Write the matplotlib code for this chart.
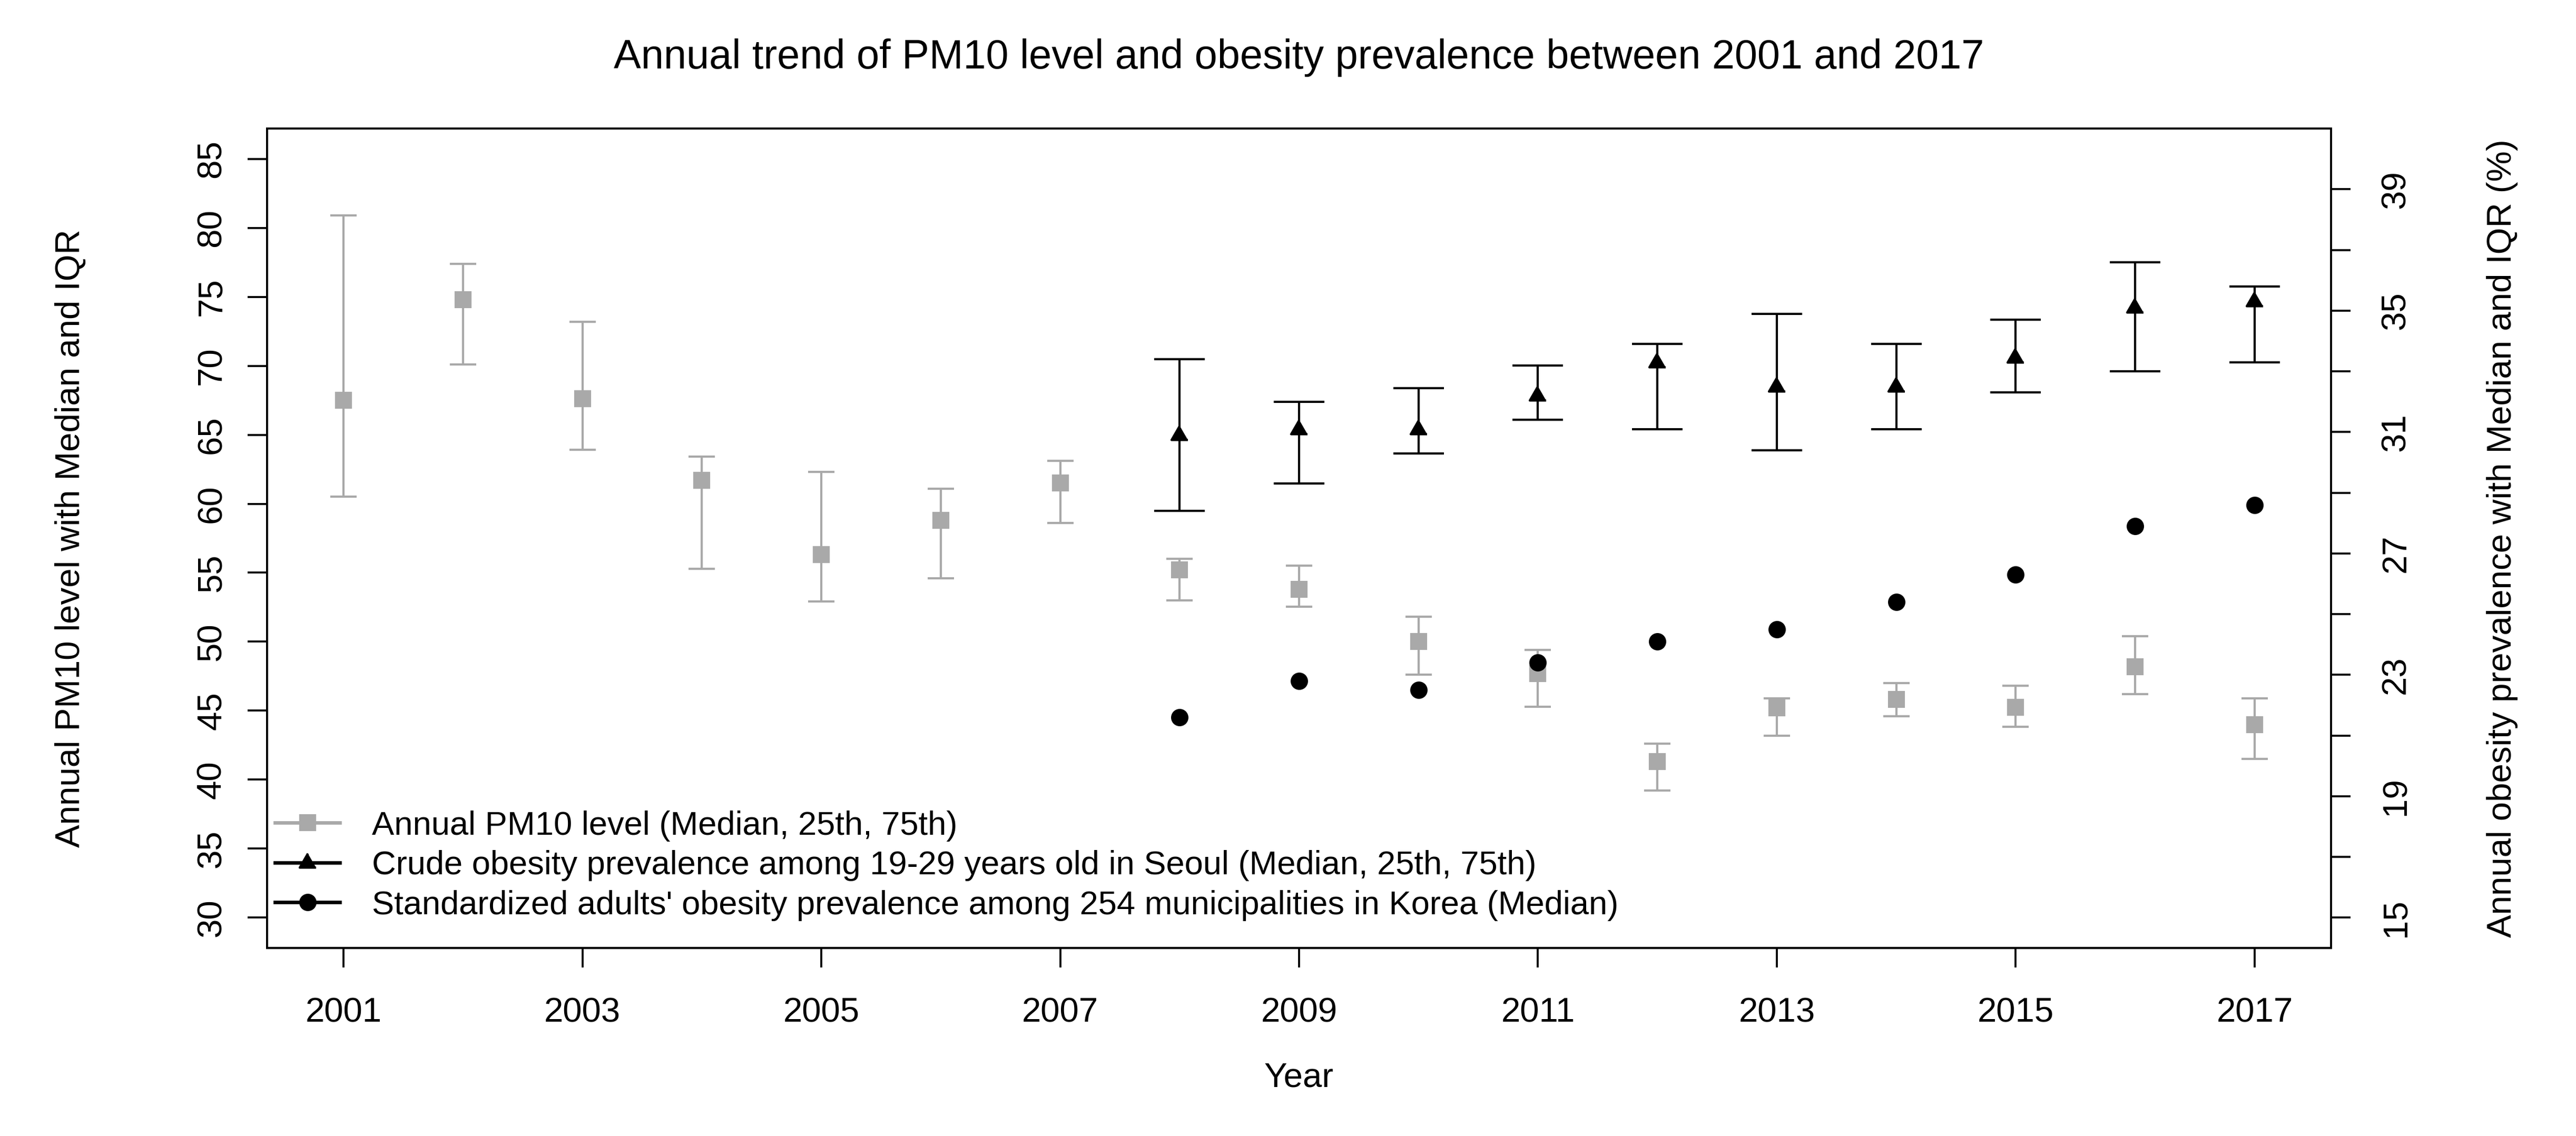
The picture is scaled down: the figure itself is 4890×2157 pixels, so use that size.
import matplotlib
matplotlib.use("Agg")
import matplotlib.pyplot as plt
from matplotlib.lines import Line2D
import numpy as np

plt.rcParams['font.family'] = ['Liberation Sans', 'DejaVu Sans']

# data
years = np.arange(2001, 2018)
pm_med = [67.5, 74.8, 67.6, 61.7, 56.3, 58.8, 61.5, 55.2, 53.8, 50.0, 47.7, 41.3, 45.2, 45.8, 45.25, 48.2, 44.0]
pm_q75 = [80.9, 77.4, 73.2, 63.4, 62.3, 61.1, 63.1, 56.0, 55.5, 51.8, 49.4, 42.6, 45.9, 47.0, 46.8, 50.4, 45.9]
pm_q25 = [60.5, 70.1, 63.9, 55.3, 52.9, 54.6, 58.6, 53.0, 52.55, 47.6, 45.3, 39.2, 43.2, 44.6, 43.85, 46.2, 41.5]

ob_years = np.arange(2008, 2018)
crude_med = [30.9, 31.1, 31.1, 32.2, 33.3, 32.5, 32.5, 33.45, 35.1, 35.3]
crude_q75 = [33.4, 32.0, 32.45, 33.2, 33.9, 34.9, 33.9, 34.7, 36.6, 35.8]
crude_q25 = [28.4, 29.3, 30.3, 31.4, 31.1, 30.4, 31.1, 32.3, 33.0, 33.3]
std_med = [21.6, 22.8, 22.5, 23.4, 24.1, 24.5, 25.4, 26.3, 27.9, 28.6]

legend_labels = ["Annual PM10 level (Median, 25th, 75th)",
                 "Crude obesity prevalence among 19-29 years old in Seoul (Median, 25th, 75th)",
                 "Standardized adults' obesity prevalence among 254 municipalities in Korea (Median)"]

grey = "#A9A9A9"
fs = 15.7
tri = [(0, 1), (-0.866, -0.5), (0.866, -0.5)]  # R style pch 17

fig = plt.figure(figsize=(4890 / 300, 2157 / 300), dpi=300)
ax = fig.add_axes([507 / 4890, 1 - 1800 / 2157, 3918 / 4890, 1556 / 2157])
ax2 = ax.twinx()

pm_med = np.array(pm_med)
ax.errorbar(years, pm_med, yerr=[pm_med - np.array(pm_q25), np.array(pm_q75) - pm_med],
            fmt='s', color=grey, ms=6.7, mec=grey, ecolor=grey, elinewidth=1.0,
            capsize=6.0, capthick=1.0)

crude_med = np.array(crude_med)
ax2.errorbar(ob_years, crude_med, yerr=[crude_med - np.array(crude_q25), np.array(crude_q75) - crude_med],
             fmt='none', ecolor='black', elinewidth=1.0, capsize=11.5, capthick=1.0)
ax2.plot(ob_years, crude_med, ls='none', marker=tri, ms=8.6, color='black')
ax2.plot(ob_years, std_med, ls='none', marker='o', ms=6.9, color='black')

ax.set_xlim(2000.36, 2017.64)
ax.set_ylim(27.8, 87.2)
ax2.set_ylim(14, 41)

ax.set_xticks(np.arange(2001, 2018, 2))
ax.set_yticks(np.arange(30, 86, 5))
r_ticks = np.arange(15, 40, 2)
ax2.set_yticks(r_ticks)
ax2.set_yticklabels([str(t) if (t - 15) % 4 == 0 else "" for t in r_ticks])

for a in (ax, ax2):
    for s in a.spines.values():
        s.set_linewidth(0.9)
ax.tick_params(axis='both', direction='out', length=8.9, width=0.9, labelsize=fs)
ax.tick_params(axis='x', pad=13.5)
ax.tick_params(axis='y', pad=9.1, labelrotation=90)
ax2.tick_params(axis='y', direction='out', length=8.9, width=0.9, labelsize=fs,
                pad=13.5, labelrotation=90)
for lbl in ax.get_yticklabels() + ax2.get_yticklabels():
    lbl.set_va('center')

ax.set_xlabel("Year", fontsize=fs, va='center')
ax.xaxis.set_label_coords(0.5, -0.1587)
ax.set_ylabel("Annual PM10 level with Median and IQR", fontsize=fs, va='center')
ax.yaxis.set_label_coords(-0.0952, 0.5)
ax2.set_ylabel("Annual obesity prevalence with Median and IQR (%)", fontsize=fs, va='center')
ax2.yaxis.set_label_coords(1.083, 0.5)

fig.text(2466 / 4890, 1 - 110 / 2157, "Annual trend of PM10 level and obesity prevalence between 2001 and 2017",
         fontsize=18.6, ha='center', va='center')

handles = [Line2D([], [], color=grey, lw=1.6, marker='s', ms=6.7),
           Line2D([], [], color='black', lw=1.6, marker=tri, ms=8.6),
           Line2D([], [], color='black', lw=1.6, marker='o', ms=6.9)]
ax2.legend(handles, legend_labels, loc='upper left', bbox_to_anchor=(0.0038, 0.168),
           frameon=False, fontsize=15.2, borderpad=0, borderaxespad=0,
           handlelength=1.95, handletextpad=0.95, labelspacing=0.26)

fig.savefig("out.png", dpi=300)
